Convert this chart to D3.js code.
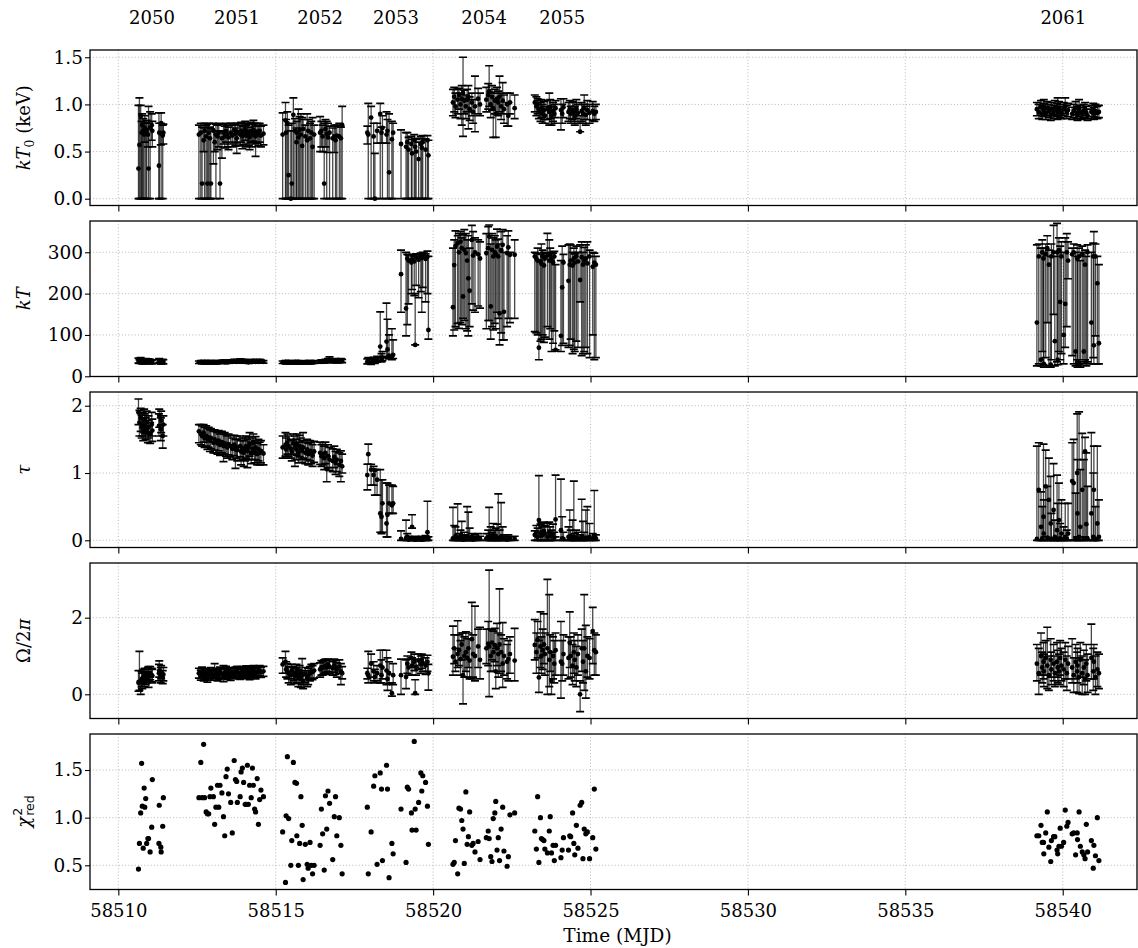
<!DOCTYPE html>
<html><head><meta charset="utf-8">
<script src="https://cdn.jsdelivr.net/npm/d3@7"></script>
<style>body{margin:0;background:#fff}svg{display:block}</style>
</head><body><svg id="c" width="1138" height="948"></svg>
<script>
// ---------- DATA ----------
const orbitNames = ["2050","2051","2052","2053","2054","2055","2061"];
const orbitLabelMJD = [58511.07,58513.77,58516.41,58518.82,58521.62,58524.10,58540.02];
const xTicks = [58510,58515,58520,58525,58530,58535,58540];
const kT0Ticks = [0,0.5,1.0,1.5];
const kTTicks = [0,100,200,300];
const tauTicks = [0,1,2];
const omTicks = [0,2];
const chiTicks = [0.5,1.0,1.5];

const t2050 = [58510.64,58510.67,58510.71,58510.74,58510.76,58510.79,58510.82,58510.84,58510.87,58510.90,58510.94,58510.96,58511.01,58511.06,58511.08,58511.29,58511.30,58511.35,58511.36,58511.41,58511.43];
const t2051 = [58512.56,58512.62,58512.66,58512.71,58512.74,58512.79,58512.83,58512.87,58512.91,58512.94,58513.02,58513.06,58513.10,58513.15,58513.19,58513.23,58513.29,58513.34,58513.38,58513.42,58513.46,58513.50,58513.57,58513.62,58513.68,58513.72,58513.76,58513.78,58513.87,58513.90,58513.94,58513.98,58514.03,58514.06,58514.10,58514.13,58514.17,58514.22,58514.26,58514.29,58514.33,58514.36,58514.41,58514.45,58514.49,58514.53,58514.61];
const t2052 = [58515.22,58515.31,58515.33,58515.37,58515.41,58515.48,58515.51,58515.56,58515.61,58515.66,58515.67,58515.72,58515.76,58515.80,58515.84,58515.87,58515.94,58516.00,58516.03,58516.09,58516.13,58516.17,58516.22,58516.41,58516.45,58516.49,58516.54,58516.58,58516.62,58516.66,58516.71,58516.81,58516.86,58516.90,58516.94,58517.02,58517.07,58517.11];
const t2053 = [58517.91,58517.94,58518.03,58518.11,58518.15,58518.22,58518.32,58518.36,58518.39,58518.52,58518.55,58518.60,58518.69,58518.73,58518.98,58519.14,58519.18,58519.22,58519.31,58519.33,58519.40,58519.43,58519.46,58519.54,58519.61,58519.64,58519.67,58519.76,58519.82,58519.85];
const t2054 = [58520.63,58520.67,58520.71,58520.78,58520.82,58520.87,58520.91,58520.95,58520.99,58521.04,58521.08,58521.12,58521.16,58521.23,58521.27,58521.33,58521.43,58521.49,58521.69,58521.75,58521.78,58521.83,58521.87,58521.91,58521.96,58521.99,58522.03,58522.07,58522.11,58522.16,58522.21,58522.25,58522.35,58522.39,58522.44,58522.59];
const t2055 = [58523.23,58523.28,58523.32,58523.36,58523.41,58523.44,58523.48,58523.52,58523.55,58523.63,58523.69,58523.72,58523.76,58523.81,58523.85,58523.89,58524.06,58524.10,58524.14,58524.30,58524.34,58524.37,58524.43,58524.47,58524.50,58524.55,58524.60,58524.67,58524.72,58524.76,58524.80,58524.85,58524.90,58524.97,58525.07,58525.12,58525.17];
const t2061 = [58539.18,58539.24,58539.31,58539.35,58539.39,58539.40,58539.46,58539.51,58539.56,58539.62,58539.64,58539.71,58539.75,58539.82,58539.84,58539.88,58539.92,58539.96,58540.03,58540.08,58540.13,58540.17,58540.30,58540.35,58540.41,58540.46,58540.47,58540.52,58540.56,58540.62,58540.67,58540.71,58540.75,58540.79,58540.91,58540.97,58540.99,58541.04,58541.10,58541.15];

// reduced chi-square
const chi2050 = [0.46,0.73,1.05,1.57,1.12,0.68,1.31,1.11,1.20,0.73,0.78,0.78,0.64,0.90,1.40,0.73,1.13,0.69,0.64,0.91,1.21];
const chi2051 = [1.21,1.58,1.21,1.77,1.21,1.06,1.04,1.04,1.22,1.31,1.22,0.93,1.11,1.34,1.11,1.34,1.26,1.01,0.81,1.43,1.51,1.25,1.16,0.84,1.60,1.40,1.38,1.16,1.22,1.48,1.52,1.37,1.14,1.14,1.55,1.14,1.34,1.21,1.52,1.34,1.09,1.06,1.41,0.93,1.19,1.29,1.22];
const chi2052 = [0.85,0.32,1.02,1.64,0.99,0.50,0.76,1.58,1.37,1.36,0.81,0.50,0.73,1.22,0.92,0.35,0.72,0.51,0.47,0.74,0.50,0.41,0.50,0.71,1.09,0.83,0.45,1.23,0.88,1.28,1.15,0.56,1.01,1.22,0.81,1.00,0.71,0.41];
const chi2053 = [1.11,0.41,0.85,1.33,1.44,0.51,1.47,1.30,0.55,1.55,1.30,0.37,0.73,0.62,1.09,0.53,1.32,1.30,1.05,0.87,1.80,1.09,0.87,1.16,1.47,1.28,1.44,1.37,1.12,0.72];
const chi2054 = [0.51,0.53,0.76,0.41,1.10,1.09,0.97,0.88,0.52,1.27,0.72,0.80,1.06,0.71,0.73,0.64,0.75,0.56,0.79,0.86,0.78,0.59,0.54,0.99,1.05,1.17,0.66,0.79,0.55,0.88,1.11,0.65,0.49,0.59,1.03,1.05];
const chi2055 = [0.86,0.67,1.22,0.53,1.00,0.78,0.77,0.76,0.67,0.63,0.86,1.01,0.63,0.71,0.55,0.71,0.58,0.66,0.79,0.66,0.81,0.80,1.05,0.73,0.61,0.92,0.68,1.13,1.16,0.57,0.88,0.83,0.85,0.57,0.79,1.30,0.67];
const chi2061 = [0.81,0.81,0.92,0.74,0.74,0.62,0.84,1.06,0.69,0.54,0.76,0.80,0.80,0.66,0.62,0.70,0.89,0.70,0.74,1.08,0.91,0.95,0.83,0.84,0.61,0.84,0.77,1.06,0.70,0.64,0.61,0.57,0.93,0.64,0.76,0.47,0.71,0.60,1.00,0.55];

// kT0 (keV): [value, lower bound, upper bound]
const kT0_2050 = [[0.32,0,0.99],[0.57,0,1.07],[0.88,0,0.99],[0.70,0,0.82],[0.78,0,0.90],[0.72,0,0.85],[0.68,0,0.80],[0.75,0.60,0.88],[0.70,0,0.81],[0.73,0,0.83],[0.68,0.55,0.80],[0.32,0,0.98],[0.75,0,0.92],[0.78,0.62,0.90],[0.72,0.55,0.82],[0.35,0,0.91],[0.70,0,0.80],[0.69,0.57,0.80],[0.80,0,0.91],[0.67,0,0.78],[0.70,0.58,0.79]];
const kT0_2051 = [[0.68,0,0.78],[0.70,0,0.80],[0.16,0,0.76],[0.62,0.50,0.75],[0.72,0,0.80],[0.66,0,0.78],[0.16,0,0.79],[0.70,0,0.80],[0.64,0,0.76],[0.16,0,0.74],[0.72,0.37,0.80],[0.60,0.50,0.72],[0.68,0,0.79],[0.66,0.52,0.78],[0.70,0.55,0.80],[0.16,0,0.72],[0.64,0.43,0.72],[0.70,0.58,0.79],[0.66,0.54,0.77],[0.72,0.60,0.80],[0.68,0.55,0.78],[0.65,0.52,0.76],[0.70,0.58,0.80],[0.67,0.55,0.78],[0.73,0.60,0.80],[0.69,0.56,0.79],[0.64,0.48,0.75],[0.71,0.58,0.80],[0.68,0.56,0.78],[0.72,0.60,0.81],[0.66,0.53,0.77],[0.70,0.57,0.80],[0.74,0.62,0.82],[0.67,0.55,0.78],[0.71,0.58,0.80],[0.69,0.56,0.79],[0.65,0.52,0.76],[0.72,0.60,0.81],[0.68,0.55,0.79],[0.73,0.61,0.83],[0.70,0.58,0.80],[0.66,0.45,0.77],[0.71,0.59,0.80],[0.68,0.56,0.78],[0.72,0.60,0.80],[0.67,0.55,0.77],[0.69,0.57,0.78]];
const kT0_2052 = [[0.68,0,0.91],[0.83,0,1.02],[0.70,0,0.84],[0.80,0,0.92],[0.25,0,0.78],[0.0,0,0.72],[0.16,0,0.80],[0.89,0,1.07],[0.72,0,0.85],[0.60,0,0.75],[0.70,0,0.82],[0.65,0,0.95],[0.73,0,0.87],[0.68,0,0.90],[0.56,0,0.86],[0.74,0,0.84],[0.66,0,0.78],[0.62,0,0.90],[0.72,0,0.84],[0.64,0,0.80],[0.70,0,0.82],[0.55,0,0.86],[0.68,0,0.78],[0.70,0.50,0.87],[0.72,0.55,0.82],[0.66,0.50,0.78],[0.16,0,0.80],[0.74,0.55,0.84],[0.69,0,0.82],[0.65,0.49,0.80],[0.70,0,0.77],[0.64,0,0.75],[0.66,0.49,0.78],[0.62,0,0.77],[0.67,0,0.78],[0.66,0,0.80],[0.64,0,0.76],[0.78,0,0.98]];
const kT0_2053 = [[0.70,0.58,0.77],[0.68,0,1.01],[0.86,0,0.98],[0.66,0,0.80],[0.0,0,0.48],[0.72,0.59,0.80],[0.90,0,1.01],[0.70,0.59,0.76],[0.75,0,0.88],[0.68,0.59,0.92],[0.72,0,0.84],[0.28,0,0.90],[0.63,0,0.82],[0.70,0,0.80],[0.58,0,0.73],[0.55,0,0.70],[0.60,0,0.70],[0.52,0,0.65],[0.58,0,0.66],[0.48,0,0.63],[0.62,0,0.68],[0.55,0,0.64],[0.50,0,0.63],[0.42,0,0.60],[0.58,0,0.66],[0.54,0,0.64],[0.60,0,0.67],[0.52,0,0.63],[0.62,0,0.67],[0.46,0,0.62]];
const kT0_2054 = [[1.02,0.88,1.16],[1.08,0.92,1.18],[0.98,0.86,1.12],[1.05,0.90,1.16],[1.10,0.95,1.17],[1.00,0.85,1.12],[1.06,0.78,1.20],[1.12,0.66,1.50],[1.04,0.90,1.15],[0.98,0.85,1.10],[1.05,0.92,1.16],[1.08,0.74,1.20],[0.95,0.83,1.08],[1.02,0.88,1.12],[0.92,0.80,1.05],[0.98,0.71,1.30],[1.06,0.90,1.17],[1.00,0.88,1.12],[1.05,0.92,1.18],[1.10,0.95,1.22],[1.14,0.98,1.41],[1.00,0.86,1.13],[1.08,0.94,1.20],[0.96,0.65,1.12],[1.04,0.90,1.16],[0.90,0.65,1.06],[1.06,0.90,1.18],[1.02,0.88,1.14],[1.08,0.92,1.30],[0.98,0.84,1.12],[1.04,0.90,1.23],[0.95,0.80,1.10],[1.00,0.77,1.12],[0.88,0.77,1.02],[1.02,0.90,1.12],[0.96,0.85,1.10]];
const kT0_2055 = [[1.02,0.92,1.10],[0.98,0.88,1.08],[1.00,0.90,1.06],[0.95,0.85,1.04],[0.92,0.82,1.02],[0.96,0.86,1.05],[0.90,0.80,1.00],[0.94,0.84,1.03],[0.88,0.80,0.98],[0.95,0.84,1.04],[0.92,0.78,1.12],[0.97,0.85,1.05],[0.88,0.78,0.98],[0.93,0.82,1.02],[0.90,0.80,1.00],[0.96,0.86,1.04],[0.94,0.73,1.06],[0.90,0.80,1.00],[0.97,0.86,1.06],[0.92,0.82,1.02],[0.95,0.85,1.04],[0.90,0.80,0.98],[0.94,0.84,1.03],[0.92,0.82,1.02],[0.88,0.78,0.98],[0.95,0.85,1.05],[0.91,0.80,1.00],[0.71,0.71,0.88],[0.93,0.82,1.02],[0.90,0.80,1.00],[0.96,0.84,1.10],[0.89,0.78,0.98],[0.94,0.84,1.04],[0.91,0.80,1.00],[0.93,0.83,1.03],[0.90,0.82,0.98],[0.92,0.84,1.00]];
const kT0_2061 = [[0.95,0.88,1.02],[0.92,0.85,1.00],[0.97,0.90,1.04],[0.90,0.84,0.98],[0.94,0.87,1.01],[0.98,0.90,1.05],[0.91,0.84,0.98],[0.96,0.88,1.03],[0.93,0.86,1.00],[0.89,0.83,0.97],[0.95,0.88,1.02],[0.92,0.85,0.99],[0.97,0.89,1.04],[0.94,0.87,1.01],[0.90,0.84,1.07],[0.96,0.88,1.03],[0.93,0.86,1.00],[0.91,0.85,0.98],[0.95,0.88,1.02],[0.98,0.90,1.07],[0.92,0.85,0.99],[0.94,0.87,1.01],[0.90,0.84,0.97],[0.93,0.86,1.00],[0.96,0.89,1.03],[0.91,0.85,0.98],[0.89,0.83,0.96],[0.94,0.87,1.05],[0.92,0.85,0.99],[0.90,0.84,0.97],[0.93,0.86,1.00],[0.95,0.88,1.02],[0.91,0.85,0.98],[0.88,0.83,0.95],[0.92,0.85,0.99],[0.94,0.87,1.01],[0.90,0.84,0.97],[0.93,0.86,1.00],[0.91,0.85,0.98],[0.92,0.86,0.99]];

// kT (keV): [value, lower, upper]
const kT_2050 = [[37,32,44],[35,31,40],[38,33,45],[36,31,41],[34,30,39],[37,32,42],[36,31,41],[35,30,40],[38,33,43],[36,31,41],[35,31,40],[37,32,42],[36,31,41],[34,30,39],[35,31,40],[36,31,41],[38,33,43],[35,30,40],[34,30,39],[36,31,41],[35,30,40]];
const kT_2051 = [[34,31,37],[35,32,38],[34,31,37],[33,30,36],[35,32,38],[34,31,37],[34,31,37],[35,32,38],[33,30,36],[34,31,37],[35,32,38],[34,31,37],[33,30,36],[34,31,37],[35,32,38],[34,31,37],[35,32,38],[36,33,39],[34,31,37],[35,32,38],[34,31,37],[35,32,38],[36,33,40],[35,32,38],[37,33,41],[36,33,39],[35,32,38],[36,33,39],[38,34,42],[36,33,39],[35,32,38],[36,33,39],[37,33,41],[35,32,38],[36,33,39],[34,31,37],[35,32,38],[36,33,39],[35,32,38],[37,33,41],[36,33,39],[35,32,38],[36,33,39],[35,32,38],[37,33,41],[36,33,39],[35,32,38]];
const kT_2052 = [[34,31,37],[35,32,38],[33,30,36],[34,31,37],[35,32,38],[34,31,37],[33,30,36],[34,31,37],[35,32,38],[33,30,36],[34,31,37],[35,32,38],[34,31,37],[33,30,36],[34,31,37],[33,30,36],[34,31,37],[35,32,38],[34,31,37],[33,30,36],[34,31,37],[35,32,38],[34,31,37],[35,32,38],[36,33,40],[35,32,38],[36,33,40],[37,33,41],[36,33,40],[38,34,43],[40,35,47],[37,33,41],[36,33,40],[38,34,43],[37,33,41],[36,33,40],[38,34,43],[37,33,41]];
const kT_2053 = [[35,30,42],[37,31,45],[33,29,40],[38,32,46],[36,31,44],[40,34,48],[72,45,156],[42,35,55],[45,38,60],[84,48,177],[65,45,138],[50,42,100],[48,40,115],[52,43,88],[247,155,305],[164,98,300],[285,125,295],[280,175,293],[275,200,292],[283,210,295],[278,195,290],[76,76,200],[288,220,296],[282,190,294],[290,205,298],[286,155,295],[292,215,300],[284,180,296],[289,200,303],[112,90,290]];
const kT_2054 = [[167,98,310],[269,112,330],[315,120,352],[322,128,340],[300,116,345],[326,130,350],[310,125,335],[193,140,342],[306,135,355],[298,115,345],[280,110,330],[237,98,340],[207,120,310],[330,175,365],[292,160,350],[300,155,335],[295,170,330],[285,165,325],[298,115,345],[310,135,362],[338,135,366],[169,90,320],[306,120,345],[290,112,335],[300,128,340],[295,115,330],[314,155,356],[290,140,332],[152,76,320],[305,105,350],[318,88,355],[156,88,300],[298,120,340],[312,140,352],[294,130,300],[294,140,330]];
const kT_2055 = [[290,108,300],[285,105,298],[280,100,310],[69,40,280],[278,85,295],[272,90,320],[290,100,305],[268,82,300],[285,95,298],[292,120,346],[280,90,330],[295,115,310],[285,60,300],[276,80,298],[290,110,302],[64,64,270],[98,60,280],[215,75,315],[275,80,295],[231,70,318],[270,75,320],[280,90,318],[268,55,300],[285,65,310],[275,60,296],[290,85,315],[278,70,300],[233,180,318],[288,50,325],[270,55,300],[280,60,312],[285,70,318],[273,55,325],[290,45,305],[265,100,300],[275,40,298],[270,45,290]];
const kT_2061 = [[130,25,318],[290,30,320],[40,25,310],[300,60,330],[285,28,310],[30,22,300],[295,45,320],[310,130,340],[270,25,305],[28,22,290],[290,40,320],[300,150,365],[85,25,290],[300,35,370],[40,28,300],[305,60,335],[180,40,315],[290,55,325],[100,30,300],[175,70,335],[300,120,345],[280,236,325],[295,50,310],[300,30,320],[60,25,300],[285,40,318],[35,22,290],[290,30,310],[28,22,280],[295,35,315],[60,30,300],[270,40,305],[35,25,290],[300,35,318],[130,30,300],[290,45,322],[75,30,350],[290,98,320],[225,30,290],[80,30,270]];

// tau: [value, lower, upper]
const tau_2050 = [[1.90,1.72,2.10],[1.75,1.55,1.93],[1.82,1.62,1.96],[1.68,1.52,1.86],[1.72,1.55,1.90],[1.62,1.48,1.80],[1.78,1.60,1.95],[1.70,1.55,1.88],[1.65,1.50,1.82],[1.75,1.58,1.92],[1.60,1.45,1.78],[1.68,1.52,1.85],[1.58,1.44,1.75],[1.72,1.55,1.90],[1.63,1.47,1.80],[1.70,1.55,1.88],[1.85,1.68,1.95],[1.65,1.48,1.82],[1.78,1.60,1.92],[1.55,1.37,1.72],[1.72,1.55,1.85]];
const tau_2051 = [[1.62,1.45,1.72],[1.58,1.42,1.72],[1.55,1.40,1.70],[1.60,1.46,1.72],[1.52,1.38,1.68],[1.55,1.40,1.70],[1.50,1.35,1.66],[1.53,1.38,1.68],[1.48,1.32,1.64],[1.52,1.36,1.66],[1.45,1.30,1.62],[1.50,1.34,1.64],[1.47,1.30,1.62],[1.44,1.28,1.60],[1.48,1.33,1.63],[1.42,1.26,1.58],[1.46,1.30,1.62],[1.40,1.17,1.58],[1.44,1.28,1.60],[1.41,1.25,1.57],[1.38,1.22,1.55],[1.43,1.27,1.58],[1.40,1.24,1.56],[1.36,1.20,1.52],[1.42,1.26,1.56],[1.35,1.07,1.50],[1.38,1.22,1.55],[1.34,1.18,1.50],[1.40,1.24,1.55],[1.32,1.12,1.48],[1.37,1.20,1.52],[1.30,1.10,1.48],[1.35,1.18,1.52],[1.40,1.22,1.55],[1.33,1.08,1.50],[1.38,1.20,1.54],[1.42,1.25,1.60],[1.30,1.14,1.46],[1.36,1.20,1.52],[1.45,1.28,1.58],[1.32,1.15,1.48],[1.38,1.20,1.54],[1.28,1.12,1.44],[1.35,1.18,1.50],[1.30,1.12,1.46],[1.33,1.15,1.48],[1.29,1.12,1.42]];
const tau_2052 = [[1.38,1.22,1.55],[1.42,1.25,1.60],[1.35,1.22,1.52],[1.45,1.28,1.58],[1.40,1.25,1.55],[1.36,1.22,1.50],[1.32,1.18,1.48],[1.44,1.28,1.58],[1.38,1.10,1.55],[1.35,1.20,1.50],[1.42,1.26,1.58],[1.30,1.15,1.46],[1.40,1.24,1.56],[1.36,1.20,1.52],[1.33,1.16,1.48],[1.38,1.22,1.60],[1.30,1.14,1.46],[1.35,1.20,1.50],[1.28,1.12,1.44],[1.33,1.18,1.48],[1.30,1.14,1.45],[1.26,1.10,1.42],[1.32,1.16,1.47],[1.30,1.13,1.46],[1.25,1.10,1.42],[1.28,1.12,1.45],[1.22,1.05,1.40],[1.30,1.14,1.46],[1.06,0.87,1.25],[1.25,1.08,1.42],[1.20,1.04,1.38],[1.18,1.02,1.36],[1.24,1.08,1.40],[1.15,0.98,1.32],[1.20,1.02,1.35],[1.12,0.95,1.30],[1.18,0.87,1.33],[1.10,1.00,1.28]];
const tau_2053 = [[0.97,0.75,1.13],[1.28,1.13,1.43],[1.05,0.82,1.13],[0.97,0.82,1.10],[1.04,0.67,1.05],[0.90,0.67,1.05],[0.40,0.12,1.05],[0.35,0.10,0.90],[0.55,0.12,0.90],[0.25,0.05,0.85],[0.38,0.05,0.85],[0.55,0.40,0.82],[0.52,0.40,0.82],[0.55,0.40,0.80],[0.02,0,0.14],[0.03,0,0.30],[0.05,0,0.10],[0.01,0,0.06],[0.02,0,0.05],[0.20,0.18,0.38],[0.01,0,0.04],[0.02,0,0.06],[0.01,0,0.04],[0.02,0,0.05],[0.01,0,0.03],[0.02,0,0.06],[0.01,0,0.04],[0.03,0,0.07],[0.12,0,0.58],[0.02,0,0.05]];
const tau_2054 = [[0.03,0,0.49],[0.02,0,0.22],[0.06,0,0.20],[0.02,0,0.54],[0.04,0,0.10],[0.05,0,0.15],[0.03,0,0.28],[0.01,0,0.08],[0.04,0,0.12],[0.02,0,0.06],[0.06,0,0.50],[0.03,0,0.42],[0.02,0,0.18],[0.05,0,0.10],[0.01,0,0.05],[0.02,0,0.08],[0.04,0,0.10],[0.02,0,0.06],[0.03,0,0.10],[0.05,0,0.15],[0.04,0,0.49],[0.07,0,0.20],[0.03,0,0.12],[0.08,0,0.25],[0.02,0,0.15],[0.06,0,0.18],[0.04,0,0.24],[0.03,0,0.69],[0.02,0,0.15],[0.05,0,0.56],[0.03,0,0.20],[0.02,0,0.08],[0.01,0,0.06],[0.03,0,0.08],[0.02,0,0.05],[0.02,0,0.06]];
const tau_2055 = [[0.08,0,0.14],[0.12,0,0.22],[0.05,0,0.18],[0.30,0.05,0.96],[0.10,0,0.24],[0.12,0,0.26],[0.08,0,0.20],[0.14,0,0.27],[0.10,0,0.22],[0.05,0,0.25],[0.12,0,0.27],[0.08,0,0.20],[0.06,0,0.15],[0.10,0,0.24],[0.04,0,0.12],[0.31,0.05,0.97],[0.15,0,0.91],[0.03,0,0.35],[0.02,0,0.12],[0.05,0,0.20],[0.04,0,0.45],[0.06,0,0.15],[0.03,0,0.30],[0.05,0,0.88],[0.02,0,0.10],[0.04,0,0.15],[0.03,0,0.12],[0.02,0,0.08],[0.05,0,0.61],[0.03,0,0.28],[0.02,0,0.12],[0.04,0,0.45],[0.03,0,0.50],[0.05,0,0.25],[0.02,0,0.10],[0.06,0,0.74],[0.03,0,0.08]];
const tau_2061 = [[0.02,0,1.40],[0.75,0,1.45],[0.20,0,0.72],[0.03,0,0.50],[0.35,0,1.43],[0.10,0,0.60],[0.80,0.05,1.34],[0.04,0,0.80],[0.60,0,1.22],[0.25,0,0.95],[0.02,0,0.40],[0.45,0,1.14],[0.05,0,0.30],[0.15,0,0.97],[0.02,0,0.55],[0.30,0,0.85],[0.03,0,0.25],[0.10,0,0.60],[0.02,0,0.20],[0.05,0,0.55],[0.02,0,0.15],[0.10,0,0.55],[0.88,0,1.45],[0.85,0,1.50],[0.03,0,0.70],[1.00,0.05,1.88],[0.40,0,1.20],[0.05,0,1.91],[0.20,0,1.05],[0.75,0,1.59],[0.03,0,1.20],[1.32,0.05,1.53],[0.24,0,1.30],[0.02,0,0.80],[0.40,0,1.60],[0.05,0,1.00],[0.75,0,1.40],[0.02,0,0.50],[0.25,0,1.40],[0.05,0,0.60]];

// Omega/2pi: [value, lower, upper]
const om_2050 = [[0.30,0.08,0.62],[0.33,0.10,1.12],[0.11,0.0,0.35],[0.40,0.20,0.60],[0.35,0.15,0.55],[0.45,0.28,0.65],[0.38,0.20,0.58],[0.50,0.32,0.68],[0.42,0.25,0.60],[0.48,0.30,0.66],[0.52,0.35,0.70],[0.45,0.18,0.72],[0.55,0.38,0.72],[0.50,0.33,0.68],[0.48,0.30,0.65],[0.55,0.35,0.78],[0.62,0.45,0.87],[0.50,0.30,0.70],[0.58,0.40,0.75],[0.45,0.28,0.62],[0.52,0.35,0.70]];
const om_2051 = [[0.55,0.42,0.68],[0.50,0.37,0.63],[0.58,0.45,0.71],[0.48,0.35,0.61],[0.52,0.39,0.65],[0.55,0.42,0.68],[0.45,0.32,0.58],[0.50,0.37,0.63],[0.53,0.40,0.66],[0.57,0.44,0.70],[0.50,0.37,0.63],[0.62,0.45,0.80],[0.55,0.42,0.68],[0.48,0.35,0.61],[0.52,0.39,0.65],[0.58,0.45,0.71],[0.54,0.41,0.67],[0.50,0.33,0.75],[0.56,0.43,0.69],[0.60,0.47,0.73],[0.52,0.39,0.65],[0.55,0.42,0.68],[0.49,0.36,0.62],[0.57,0.44,0.70],[0.53,0.40,0.66],[0.58,0.45,0.71],[0.55,0.42,0.68],[0.60,0.47,0.73],[0.52,0.39,0.65],[0.56,0.43,0.69],[0.59,0.46,0.72],[0.54,0.41,0.67],[0.57,0.44,0.70],[0.61,0.48,0.74],[0.55,0.42,0.68],[0.58,0.45,0.71],[0.53,0.38,0.66],[0.60,0.47,0.73],[0.56,0.43,0.69],[0.62,0.49,0.75],[0.57,0.44,0.70],[0.55,0.40,0.68],[0.60,0.47,0.73],[0.58,0.45,0.71],[0.62,0.49,0.75],[0.57,0.44,0.70],[0.60,0.47,0.73]];
const om_2052 = [[0.78,0.55,0.95],[0.85,0.55,1.12],[0.65,0.45,0.85],[0.60,0.40,0.80],[0.55,0.30,0.72],[0.50,0.25,0.70],[0.62,0.40,0.78],[0.55,0.35,0.72],[0.48,0.28,0.68],[0.58,0.38,0.78],[0.52,0.30,0.70],[0.45,0.20,0.65],[0.55,0.30,0.75],[0.40,0.18,0.62],[0.50,0.25,0.93],[0.35,0.15,0.58],[0.52,0.30,0.70],[0.42,0.20,0.62],[0.48,0.25,0.68],[0.55,0.35,0.72],[0.60,0.40,0.78],[0.58,0.38,0.75],[0.62,0.42,0.80],[0.65,0.45,0.82],[0.70,0.50,0.88],[0.68,0.50,0.85],[0.72,0.55,0.90],[0.75,0.58,0.92],[0.70,0.52,0.88],[0.78,0.60,0.92],[0.72,0.55,0.90],[0.68,0.50,0.85],[0.75,0.58,0.92],[0.70,0.52,0.88],[0.65,0.45,0.82],[0.72,0.55,0.90],[0.60,0.25,0.80],[0.55,0.40,0.72]];
const om_2053 = [[0.55,0.40,0.68],[0.50,0.30,1.12],[0.80,0.45,1.05],[0.60,0.35,0.85],[0.45,0.30,0.65],[0.55,0.35,0.75],[0.75,0.30,1.15],[0.50,0.30,0.90],[0.70,0.40,1.15],[0.62,0.25,1.15],[0.40,0.10,0.95],[0.55,0.28,0.85],[0.03,-0.05,0.30],[0.50,0.25,0.80],[0.50,0.0,0.92],[0.45,0.15,0.90],[0.80,0.55,1.00],[0.70,0.50,0.92],[0.95,0.70,1.10],[0.75,0.50,0.95],[0.85,0.62,1.05],[0.03,0.0,0.38],[0.72,0.50,0.92],[0.88,0.65,1.05],[0.78,0.55,1.00],[0.90,0.68,1.05],[0.82,0.60,1.02],[0.75,0.52,0.95],[0.85,0.60,1.02],[0.55,0.11,0.78]];
const om_2054 = [[0.98,0.50,1.78],[1.20,0.80,1.55],[0.85,0.60,1.20],[1.05,0.70,1.92],[1.15,0.75,1.55],[0.92,0.50,1.40],[1.30,0.90,1.60],[0.50,-0.25,1.60],[1.00,0.45,1.50],[1.10,0.60,1.63],[0.95,0.45,1.45],[1.20,0.70,1.60],[0.88,0.40,1.45],[1.44,0.40,2.40],[1.05,0.45,1.55],[1.00,0.35,2.30],[1.25,0.70,1.70],[0.90,0.40,1.75],[1.20,0.80,1.70],[1.32,0.75,1.90],[1.25,-0.06,3.24],[1.00,0.60,1.70],[1.35,0.90,1.68],[1.10,0.60,1.65],[1.28,0.85,1.72],[0.60,0.15,1.20],[1.20,0.75,1.85],[1.05,0.45,1.60],[1.30,0.55,2.75],[1.10,0.60,1.55],[0.80,0.18,1.87],[1.00,0.50,1.45],[0.85,0.40,1.30],[0.92,0.35,1.40],[1.05,0.55,1.50],[0.88,0.35,1.72]];
const om_2055 = [[1.29,0.90,1.95],[1.10,0.55,1.60],[1.43,0.95,1.90],[0.44,0.05,1.40],[1.25,0.70,2.15],[1.00,0.55,1.50],[1.15,0.65,1.70],[1.30,0.80,2.10],[1.05,0.50,1.60],[1.20,0.0,3.00],[0.90,0.20,2.60],[1.10,0.60,1.55],[0.35,0.0,1.10],[1.00,0.40,1.50],[0.80,0.30,1.40],[1.15,0.50,1.60],[0.85,-0.10,1.90],[0.80,0.35,1.40],[1.05,0.50,1.55],[0.95,0.40,1.50],[1.35,0.70,2.15],[1.00,0.45,1.50],[0.75,0.25,1.30],[1.10,0.55,1.60],[0.90,0.35,1.40],[0.70,0.20,1.25],[1.05,0.50,1.55],[0.0,-0.45,0.35],[1.20,0.60,1.70],[0.85,0.30,1.40],[1.20,0.10,2.60],[0.60,-0.10,1.80],[1.00,0.45,1.50],[0.95,0.40,1.45],[1.65,0.80,2.27],[1.15,0.50,1.60],[1.10,0.50,1.55]];
const om_2061 = [[0.80,0.35,1.30],[0.55,0.0,1.20],[1.00,0.50,1.60],[0.70,0.30,1.10],[0.85,0.40,1.35],[0.60,0.20,1.05],[0.95,0.50,1.40],[0.75,0.15,1.75],[0.50,0.10,1.00],[0.90,0.45,1.45],[0.65,0.25,1.10],[0.80,0.35,1.30],[0.55,0.20,1.00],[0.85,0.45,1.35],[0.70,0.30,1.15],[0.60,0.25,1.05],[0.95,0.50,1.40],[0.75,0.35,1.20],[0.65,0.20,1.10],[0.90,0.40,1.35],[0.55,0.10,1.00],[0.80,0.40,1.25],[0.70,0.30,1.45],[0.50,0.05,0.95],[0.85,0.40,1.30],[0.60,0.05,1.10],[0.75,0.30,1.20],[0.45,0.02,0.95],[0.90,0.45,1.35],[0.55,0.0,1.00],[0.70,0.25,1.15],[0.40,0.0,0.90],[0.80,0.35,1.30],[0.50,0.05,1.05],[0.95,0.40,1.83],[0.60,0.10,1.20],[0.85,0.40,1.30],[0.45,0.0,1.00],[0.65,0.20,1.10],[0.55,0.15,1.05]];

// ---------- ASSEMBLY ----------
const T = [].concat(t2050,t2051,t2052,t2053,t2054,t2055,t2061);
const CHI = [].concat(chi2050,chi2051,chi2052,chi2053,chi2054,chi2055,chi2061);
const KT0 = [].concat(kT0_2050,kT0_2051,kT0_2052,kT0_2053,kT0_2054,kT0_2055,kT0_2061);
const KT = [].concat(kT_2050,kT_2051,kT_2052,kT_2053,kT_2054,kT_2055,kT_2061);
const TAU = [].concat(tau_2050,tau_2051,tau_2052,tau_2053,tau_2054,tau_2055,tau_2061);
const OM = [].concat(om_2050,om_2051,om_2052,om_2053,om_2054,om_2055,om_2061);

function zip(vals){ const n=Math.min(T.length, vals.length); const out=[]; for(let i=0;i<n;i++) out.push({t:T[i], v:vals[i][0], lo:vals[i][1], hi:vals[i][2]}); return out; }

// ---------- DRAW ----------
const FONT = "'DejaVu Serif', serif";
const svg = d3.select('#c');
const L = 90, R = 1137;
const x = d3.scaleLinear().domain([58509.1, 58542.36]).range([L, R]);
const tops = [50, 221, 392, 563, 734];
const PH = 155.5;

const panels = [
  {data: zip(KT0), domain:[-0.072,1.577], ticks:kT0Ticks, fmt:d3.format('.1f')},
  {data: zip(KT),  domain:[-0.5,375.7],   ticks:kTTicks,  fmt:d3.format('d')},
  {data: zip(TAU), domain:[-0.107,2.204], ticks:tauTicks, fmt:d3.format('d')},
  {data: zip(OM),  domain:[-0.632,3.428], ticks:omTicks,  fmt:d3.format('d')},
  {scatter: T.map((t,i)=>({t, v:CHI[i]})).filter(d=>d.v!==undefined), domain:[0.246,1.878], ticks:chiTicks, fmt:d3.format('.1f')}
];

const defs = svg.append('defs');

panels.forEach((p, i) => {
  const top = tops[i], bot = top + PH;
  const y = d3.scaleLinear().domain(p.domain).range([bot, top]);
  const g = svg.append('g');
  defs.append('clipPath').attr('id','clip'+i).append('rect').attr('x',L).attr('y',top).attr('width',R-L).attr('height',PH);

  // grid
  const grid = g.append('g').attr('stroke','#b0b0b0').attr('stroke-width',0.9).attr('stroke-dasharray','1,2.2');
  grid.selectAll('line.gx').data(xTicks).join('line').attr('x1',d=>x(d)).attr('x2',d=>x(d)).attr('y1',top).attr('y2',bot);
  grid.selectAll('line.gy').data(p.ticks).join('line').attr('x1',L).attr('x2',R).attr('y1',d=>y(d)).attr('y2',d=>y(d));

  const plot = g.append('g').attr('clip-path','url(#clip'+i+')');
  if (p.data) {
    plot.append('g').selectAll('line').data(p.data).join('line')
      .attr('x1',d=>x(d.t)).attr('x2',d=>x(d.t)).attr('y1',d=>y(d.lo)).attr('y2',d=>y(d.hi))
      .attr('stroke','#000').attr('stroke-opacity',0.72).attr('stroke-width',1.3);
    const caps = plot.append('g').attr('stroke','#000').attr('stroke-width',1.7);
    caps.selectAll('line.lo').data(p.data).join('line')
      .attr('x1',d=>x(d.t)-4).attr('x2',d=>x(d.t)+4).attr('y1',d=>y(d.lo)).attr('y2',d=>y(d.lo));
    caps.selectAll('line.hi').data(p.data).join('line')
      .attr('x1',d=>x(d.t)-4).attr('x2',d=>x(d.t)+4).attr('y1',d=>y(d.hi)).attr('y2',d=>y(d.hi));
    plot.append('g').selectAll('circle').data(p.data).join('circle')
      .attr('cx',d=>x(d.t)).attr('cy',d=>y(d.v)).attr('r',2.4).attr('fill','#000');
  } else {
    plot.append('g').selectAll('circle').data(p.scatter).join('circle')
      .attr('cx',d=>x(d.t)).attr('cy',d=>y(d.v)).attr('r',2.6).attr('fill','#000');
  }

  // frame
  g.append('rect').attr('x',L).attr('y',top).attr('width',R-L).attr('height',PH)
    .attr('fill','none').attr('stroke','#000').attr('stroke-width',1.3);

  // y axis
  const ya = g.append('g').attr('transform',`translate(${L},0)`)
    .call(d3.axisLeft(y).tickValues(p.ticks).tickFormat(p.fmt).tickSize(5).tickPadding(2));
  ya.select('.domain').remove();
  ya.selectAll('line').attr('stroke','#000').attr('stroke-width',1.1);
  ya.selectAll('text').attr('font-family',FONT).attr('font-size',18.5).attr('fill','#000');

  // x axis
  const last = i === panels.length - 1;
  const xa = g.append('g').attr('transform',`translate(0,${bot})`)
    .call(d3.axisBottom(x).tickValues(xTicks).tickFormat(last ? d3.format('d') : () => '').tickSize(6).tickPadding(9));
  xa.select('.domain').remove();
  xa.selectAll('line').attr('stroke','#000').attr('stroke-width',1.1);
  xa.selectAll('text').attr('font-family',FONT).attr('font-size',18).attr('fill','#000');
});

// orbit labels on top
svg.append('g').selectAll('text').data(orbitNames).join('text')
  .attr('x',(d,i)=>x(orbitLabelMJD[i])).attr('y',24).attr('text-anchor','middle')
  .attr('font-family',FONT).attr('font-size',18).attr('fill','#000').text(d=>d);

// x label
svg.append('text').attr('x',(L+R)/2 + 4).attr('y',942).attr('text-anchor','middle')
  .attr('font-family',FONT).attr('font-size',18.5).attr('fill','#000').text('Time (MJD)');

// y labels
const YLX = 30;
function ylab(i){
  const cy = tops[i] + PH/2;
  return svg.append('text').attr('transform',`translate(${YLX},${cy}) rotate(-90)`)
    .attr('text-anchor','middle').attr('font-family',FONT).attr('font-size',18).attr('fill','#000');
}
{ const t = ylab(0);
  t.append('tspan').attr('font-style','italic').text('kT');
  t.append('tspan').attr('font-size',12.5).attr('dy',4).text('0');
  t.append('tspan').attr('dy',-4).text('\u00a0(keV)'); }
{ const t = ylab(1); t.append('tspan').attr('font-style','italic').text('kT'); }
{ const t = ylab(2); t.append('tspan').attr('font-style','italic').text('τ'); }
{ const t = ylab(3);
  t.append('tspan').text('Ω/2');
  t.append('tspan').attr('font-style','italic').text('π'); }
{ const cy = tops[4] + PH/2;
  const g = svg.append('g').attr('transform',`translate(${YLX},${cy}) rotate(-90)`);
  g.append('text').attr('x',-16).attr('y',0).attr('font-family',FONT).attr('font-style','italic').attr('font-size',18).text('χ');
  g.append('text').attr('x',-4).attr('y',-8).attr('font-family',"'DejaVu Sans', sans-serif").attr('font-size',12.5).text('2');
  g.append('text').attr('x',-4).attr('y',4).attr('font-family',"'DejaVu Sans', sans-serif").attr('font-size',12.5).text('red'); }
</script>
</body></html>
